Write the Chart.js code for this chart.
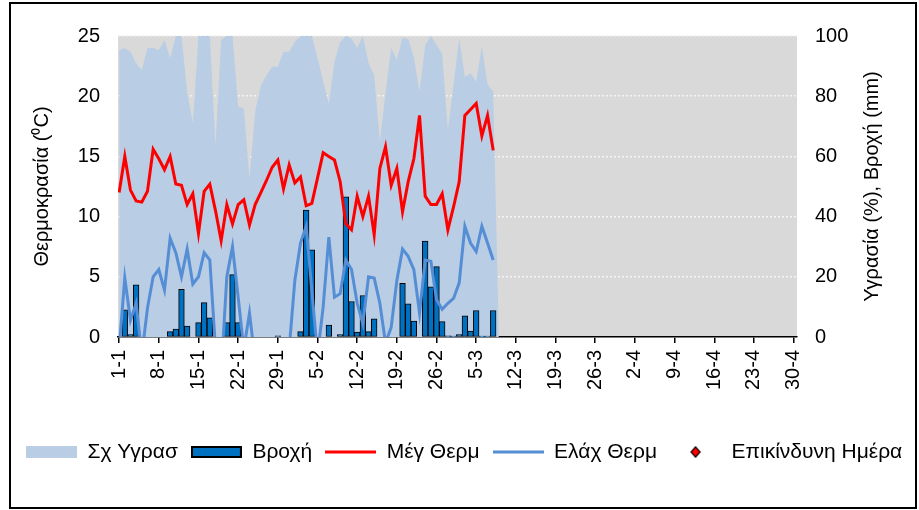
<!DOCTYPE html>
<html><head><meta charset="utf-8">
<script src="https://cdn.jsdelivr.net/npm/chart.js@4"></script>
<style>html,body{margin:0;padding:0;background:#fff}#wrap{width:919px;height:510px;position:relative}</style>
</head><body><div id="wrap"><canvas id="c" width="919" height="510"></canvas></div>
<script>
// x tick labels (every 7 days, 1 Jan .. 30 Apr)
const tickLabels = ['1-1','8-1','15-1','22-1','29-1','5-2','12-2','19-2','26-2','5-3','12-3','19-3','26-3','2-4','9-4','16-4','23-4','30-4'];
const tickStep = 7;
const dayCount = 120;
// daily categories (day-month)
const monthLengths = [31, 28, 31, 30];
const days = [];
monthLengths.forEach((n, m) => { for (let d = 1; d <= n; d++) days.push(d + '-' + (m + 1)); });

// relative humidity (%)
const humidity = [95.3, 95.9, 94.8, 90.9, 88.7, 95.9, 96.1, 95.3, 98.7, 92.6,
  100, 100, 81.5, 71, 100, 100, 100, 63.5, 98.7, 100,
  100, 76.5, 76, 52.5, 75, 83.5, 87, 89.8, 89.8, 94.8,
  94.8, 98.1, 100, 100, 100, 92.6, 85, 77.5, 91.5, 98,
  100, 99.2, 96, 100, 91, 87, 65, 81, 96, 92,
  99.5, 99, 93, 81.5, 97, 100, 97, 94, 68.5, 84,
  99.2, 86.5, 87.6, 84.8, 96.5, 84, 81.5, 0];
// rainfall (mm)
const rain = [0, 9.0, 0.8, 17.3, 0, 0, 0, 0, 0, 1.8,
  2.6, 15.8, 3.6, 0, 4.8, 11.4, 6.4, 0, 0, 4.8,
  20.7, 4.8, 0, 0, 0, 0, 0, 0, 0.4, 0,
  0, 0, 1.8, 42.2, 29.0, 0, 0, 4.0, 0, 0.8,
  46.6, 11.8, 1.6, 13.8, 1.8, 6.0, 0, 0, 0, 0,
  17.8, 11.0, 5.3, 0, 31.9, 16.7, 23.4, 5.1, 0.4, 0.3,
  0.8, 7.0, 2.0, 8.8, 0.3, 0.3, 8.8];
// max temperature (°C)
const maxTemp = [12.0, 15.0, 12.2, 11.3, 11.2, 12.1, 15.6, 14.8, 13.9, 15.0,
  12.7, 12.6, 11.0, 11.9, 8.6, 12.1, 12.7, 10.5, 8.0, 11.0,
  9.4, 11.0, 11.4, 9.3, 11.0, 12.0, 13.0, 14.1, 14.7, 12.3,
  14.3, 12.8, 13.3, 10.9, 11.1, 13.2, 15.3, 15.0, 14.7, 12.9,
  9.4, 8.9, 11.7, 10.0, 11.7, 8.5, 14.0, 15.8, 12.6, 14.0,
  10.4, 12.9, 14.8, 18.4, 11.7, 11.0, 11.0, 11.9, 8.9, 10.8,
  12.9, 18.4, 18.9, 19.4, 16.7, 18.4, 15.5];
// min temperature (°C)
const minTemp = [-1, 4.9, 1.4, 2.8, -1.5, 2.4, 5.0, 5.6, 3.9, 8.2,
  7.0, 5.0, 7.3, 4.4, 5.0, 7.0, 6.4, -1, -3, 5.0,
  7.5, 3.3, -1, 2.0, -2, -3, -3, -3, -3, -3,
  -1, 4.7, 7.8, 9.2, 3.9, -1.5, 2.5, 8.3, 3.3, 3.6,
  6.4, 5.6, 2.8, 1.1, 5.0, 4.9, 2.8, -0.5, 0.8, 4.7,
  7.3, 6.7, 5.6, 2.0, 6.4, 6.3, 3.1, 2.3, 2.8, 3.2,
  4.5, 9.2, 7.8, 7.1, 9.2, 7.8, 6.4];
// dangerous days (none in this period)
const dangerDays = [];

const seriesNames = ['Σχ Υγρασ', 'Βροχή', 'Μέγ Θερμ', 'Ελάχ Θερμ', 'Επικίνδυνη Ημέρα'];
const leftTitle = 'Θερμοκρασία (⁰C)';
const rightTitle = 'Υγρασία (%), Βροχή (mm)';

const C_HUM = '#b9cde5', C_RAIN = '#0070c0', C_MAX = '#ff0000', C_MIN = '#558ed5';
const FAMILY = '"Liberation Sans", Arial, sans-serif';
const FONT = {family: FAMILY, size: 20};
const LEG_FONT = {family: FAMILY, size: 21};
const FONT_STR = '20px ' + FAMILY;

const toXY = arr => arr.map((v, i) => ({x: i, y: v}));

function icon(w, h, draw) {
  const c = document.createElement('canvas'); c.width = w; c.height = h;
  draw(c.getContext('2d')); return c;
}
const legendIcons = [
  icon(51, 12, g => { g.fillStyle = C_HUM; g.fillRect(0, 0, 51, 12); }),
  icon(51, 12, g => { g.fillStyle = '#000'; g.fillRect(0, 0, 51, 12); g.fillStyle = C_RAIN; g.fillRect(2, 2, 47, 8); }),
  icon(51, 4, g => { g.fillStyle = C_MAX; g.fillRect(0, 0.5, 51, 3); }),
  icon(51, 4, g => { g.fillStyle = C_MIN; g.fillRect(0, 0.5, 51, 3); }),
  icon(12, 12, g => { g.beginPath(); g.moveTo(6, 0.8); g.lineTo(10.5, 6); g.lineTo(6, 11.2); g.lineTo(1.5, 6); g.closePath(); g.fillStyle = C_MAX; g.fill(); g.lineWidth = 1.2; g.strokeStyle = '#000'; g.stroke(); })
];

const decor = {
  id: 'decor',
  beforeDraw(chart) {
    const {ctx, chartArea: a} = chart;
    ctx.save();
    ctx.fillStyle = '#fff'; ctx.fillRect(0, 0, chart.width, chart.height);
    ctx.fillStyle = '#d9d9d9'; ctx.fillRect(a.left, a.top, a.right - a.left, a.bottom - a.top);
    ctx.restore();
  },
  afterDraw(chart) {
    const {ctx, chartArea: a} = chart;
    ctx.save();
    ctx.font = FONT_STR; ctx.fillStyle = '#000'; ctx.textAlign = 'center'; ctx.textBaseline = 'middle';
    ctx.translate(a.right + 75, (a.top + a.bottom) / 2); ctx.rotate(-Math.PI / 2);
    ctx.fillText(rightTitle, 0, 0);
    ctx.restore();
    ctx.save(); ctx.lineWidth = 2; ctx.strokeStyle = '#000';
    ctx.strokeRect(10, 3, 906, 505);
    ctx.restore();
  }
};

new Chart(document.getElementById('c'), {
  type: 'line',
  data: {
    labels: days,
    datasets: [
      {type: 'line', label: seriesNames[0], data: toXY(humidity), yAxisID: 'y2', fill: 'origin', backgroundColor: C_HUM, borderWidth: 0, pointRadius: 0, order: 4, clip: 0},
      {type: 'bar', label: seriesNames[1], data: toXY(rain), yAxisID: 'y2', backgroundColor: C_RAIN, borderColor: '#000', borderWidth: 1, borderSkipped: false, barPercentage: 1, categoryPercentage: 1, grouped: false, order: 3},
      {type: 'line', label: seriesNames[2], data: toXY(maxTemp), yAxisID: 'y', borderColor: C_MAX, borderWidth: 3, pointRadius: 0, fill: false, order: 1, clip: 0},
      {type: 'line', label: seriesNames[3], data: toXY(minTemp), yAxisID: 'y', borderColor: C_MIN, borderWidth: 3, pointRadius: 0, fill: false, order: 2, clip: 0},
      {type: 'scatter', label: seriesNames[4], data: dangerDays, yAxisID: 'y', pointStyle: 'rectRot', backgroundColor: C_MAX, borderColor: '#000', order: 0}
    ]
  },
  options: {
    responsive: false, animation: false, devicePixelRatio: 1,
    layout: {padding: {left: 13, right: 0, top: 36, bottom: 37.5}},
    plugins: {
      tooltip: {enabled: false},
      legend: {
        position: 'bottom', align: 'start',
        labels: {
          usePointStyle: true, pointStyleWidth: 51, font: LEG_FONT, color: '#000', padding: 13,
          generateLabels: chart => chart.data.datasets.map((ds, i) => ({
            text: ds.label, pointStyle: legendIcons[i], fillStyle: 'rgba(0,0,0,0)', strokeStyle: 'rgba(0,0,0,0)', lineWidth: 0,
            hidden: false, datasetIndex: i, fontColor: '#000'
          }))
        }
      }
    },
    scales: {
      x: {
        type: 'linear', position: 'bottom', min: -0.2, max: dayCount - 0.4, z: 1, offset: false,
        afterBuildTicks: s => { s.ticks = tickLabels.map((_, i) => ({value: i * tickStep})); },
        afterFit: s => { s.height = 91.5; },
        ticks: {autoSkip: false, minRotation: 90, maxRotation: 90, padding: 7, color: '#000', font: FONT,
          callback: (v, i) => tickLabels[i]},
        grid: {offset: false, drawOnChartArea: false, drawTicks: true, tickLength: 6, color: '#000', lineWidth: 1.5},
        border: {display: true, color: '#000', width: 1.5}
      },
      y: {
        position: 'left', min: 0, max: 25,
        afterFit: s => { s.width = 105; },
        ticks: {stepSize: 5, color: '#000', font: FONT, padding: 18},
        grid: {color: '#f4f4f4', lineWidth: 1.5, drawTicks: false},
        border: {display: false, dash: [2, 2]},
        title: {display: true, text: leftTitle, color: '#000', font: FONT, padding: {top: 17, bottom: 0}}
      },
      y2: {
        position: 'right', min: 0, max: 100,
        afterFit: s => { s.width = 122; },
        ticks: {stepSize: 20, color: '#000', font: FONT, padding: 18},
        grid: {drawOnChartArea: false, drawTicks: false},
        border: {display: false}
      }
    }
  },
  plugins: [decor]
});
</script>
</body></html>
